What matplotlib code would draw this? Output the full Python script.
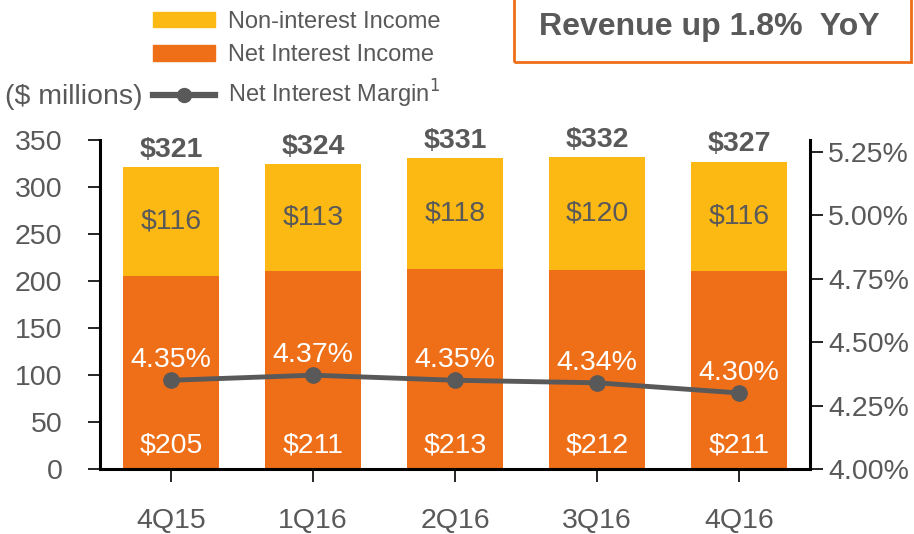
import matplotlib.pyplot as plt
from matplotlib.patches import Patch, Rectangle
from matplotlib.lines import Line2D

plt.rcParams['font.family'] = ['Liberation Sans', 'DejaVu Sans']

quarters = ['4Q15', '1Q16', '2Q16', '3Q16', '4Q16']
net_interest = [205, 211, 213, 212, 211]
non_interest = [116, 113, 118, 120, 116]
totals = [321, 324, 331, 332, 327]
nim = [4.35, 4.37, 4.35, 4.34, 4.30]

gris = '#595959'
naranja = '#EE6F17'
amarillo = '#FDB913'

fig = plt.figure(figsize=(9.14, 5.34), dpi=100)
ax = fig.add_axes([0.1094, 0.1217, 0.7768, 0.6161])
x = list(range(len(quarters)))
ancho = 0.68

# barras apiladas
ax.bar(x, net_interest, width=ancho, color=naranja, zorder=2)
ax.bar(x, non_interest, width=ancho, bottom=net_interest, color=amarillo, zorder=2)

for i in x:
    ax.text(i, 25, f'${net_interest[i]}', ha='center', va='center', color='white', fontsize=20.5, zorder=5)
    ax.text(i, net_interest[i] + non_interest[i] / 2, f'${non_interest[i]}', ha='center', va='center',
            color=gris, fontsize=20.5, zorder=5)
    ax.annotate(f'${totals[i]}', (i, totals[i]), xytext=(0, 3), textcoords='offset points',
                ha='center', va='bottom', color=gris, fontsize=20.5, fontweight='bold')

ax.set_xlim(-0.5, 4.5)
ax.set_ylim(0, 350)
ax.set_yticks(range(0, 351, 50))
ax.set_xticks(x)
ax.set_xticklabels(quarters)
ax.tick_params(axis='y', direction='out', length=9, width=1.2, colors='black', labelcolor=gris,
               labelsize=20.5, pad=18)
ax.tick_params(axis='x', direction='out', length=9, width=1.2, colors='black', labelcolor=gris,
               labelsize=20.5, pad=19)
for s in ['top', 'right']:
    ax.spines[s].set_visible(False)
for s in ['left', 'bottom']:
    ax.spines[s].set_linewidth(2.2)

# eje derecho para el margen
ax2 = ax.twinx()
ax2.plot(x, nim, color=gris, linewidth=3.5, marker='o', markersize=11, zorder=4)
for i in x:
    ax2.annotate(f'{nim[i]:.2f}%', (i, nim[i]), xytext=(0, 5), textcoords='offset points',
                 ha='center', va='bottom', color='white', fontsize=20.5)
ax2.set_ylim(4.0, 5.2975)
ax2.set_yticks([4.0, 4.25, 4.5, 4.75, 5.0, 5.25])
ax2.set_yticklabels([f'{v:.2f}%' for v in [4.0, 4.25, 4.5, 4.75, 5.0, 5.25]])
ax2.tick_params(axis='y', direction='out', length=9, width=1.2, colors='black', labelcolor=gris,
                labelsize=20.5, pad=4)
for s in ['top', 'left', 'bottom']:
    ax2.spines[s].set_visible(False)
ax2.spines['right'].set_linewidth(2.2)

# leyenda
handles = [Patch(color=amarillo), Patch(color=naranja),
           Line2D([], [], color=gris, linewidth=4.5, marker='o', markersize=10)]
labels = ['Non-interest Income', 'Net Interest Income', 'Net Interest Margin$^1$']
fig.legend(handles, labels, loc='upper left', bbox_to_anchor=(0.1674, 0.98), frameon=False,
           fontsize=17, labelcolor=gris, handlelength=2.63, handleheight=0.65, handletextpad=0.55,
           labelspacing=0.5, borderpad=0, borderaxespad=0)
fig.text(0.005, 0.818, '($ millions)', fontsize=20.5, color=gris, va='center', ha='left')

# caja de texto
fig.patches.append(Rectangle((0.5625, 0.884), 0.434, 0.2, transform=fig.transFigure,
                             fill=False, edgecolor=naranja, linewidth=2))
fig.text(0.776, 0.95, 'Revenue up 1.8%  YoY', fontsize=23, fontweight='bold', color=gris,
         ha='center', va='center')

fig.savefig('out.png', dpi=100)
